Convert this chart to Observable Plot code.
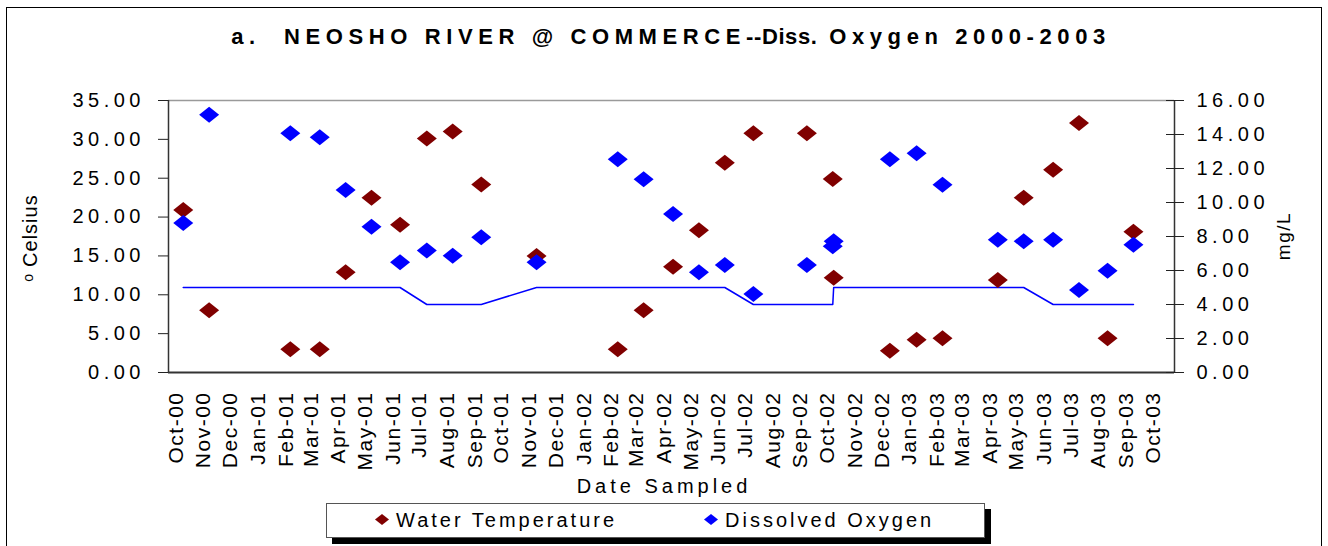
<!DOCTYPE html>
<html>
<head>
<meta charset="utf-8">
<script src="https://cdn.jsdelivr.net/npm/d3@7"></script>
<script src="https://cdn.jsdelivr.net/npm/@observablehq/plot@0.6"></script>
<style>
  html, body { margin: 0; padding: 0; background: #fff; }
  body { font-family: 'Liberation Sans', Arial, sans-serif; color: #000; }
  #wrap { position: relative; width: 1328px; height: 546px; overflow: hidden; background: #fff; }
  #border { position: absolute; left: 6px; top: 7px; width: 1316px; height: 600px; border: 1px solid #000; box-sizing: border-box; }
  #title { position: absolute; left: 0; width: 1328px; top: 24px; text-align: center; font-weight: bold; font-size: 22px; letter-spacing: 5.6px; white-space: pre; padding-left: 14px; box-sizing: border-box; }
  #title .tight { letter-spacing: 0.6px; }
  #chart { position: absolute; left: 0; top: 80px; }
  .rot { position: absolute; white-space: nowrap; transform: translate(-50%, -50%) rotate(-90deg); }
  #ylab { left: 30px; top: 238px; font-size: 20px; letter-spacing: 1px; }
  #ylab sup { font-size: 14px; vertical-align: 4px; margin-right: 6px; }
  #y2lab { left: 1284px; top: 236px; font-size: 19px; letter-spacing: 1.5px; }
  #xlab { position: absolute; left: 664px; top: 486px; transform: translate(-50%, -50%); font-size: 20px; letter-spacing: 4px; white-space: nowrap; }
  #legend { position: absolute; left: 326px; top: 503px; width: 659px; height: 35px; border: 1px solid #555; box-sizing: border-box; background: #fff; box-shadow: 6px 6px 0 #000; font-size: 20px; letter-spacing: 3px; }
  #legend .item { position: absolute; top: 0; height: 33px; line-height: 33px; white-space: nowrap; }
  #legend svg { vertical-align: middle; margin-right: 7px; position: relative; top: -2px; }
  svg g[aria-label="y-axis tick label"] text { letter-spacing: 4.5px; }
  svg g[aria-label="x-axis tick label"] text { letter-spacing: 1.5px; }
</style>
</head>
<body>
<div id="wrap">
  <div id="border"></div>
  <div id="title">a.  NEOSHO RIVER @ COMMERCE<span class="tight">--Diss.</span> Oxygen 2000-2003</div>
  <div id="chart"></div>
  <div id="ylab" class="rot"><sup>o</sup>Celsius</div>
  <div id="y2lab" class="rot">mg/L</div>
  <div id="xlab">Date Sampled</div>
  <div id="legend">
    <div class="item" style="left:48px"><svg width="14" height="11" viewBox="0 0 14 11"><polygon points="0,5.5 7,0 14,5.5 7,11" fill="#800000"/></svg>Water Temperature</div>
    <div class="item" style="left:377px"><svg width="14" height="11" viewBox="0 0 14 11"><polygon points="0,5.5 7,0 14,5.5 7,11" fill="#0000ff"/></svg>Dissolved Oxygen</div>
  </div>
</div>
<script>
// ---- Data ----
const sampleDates = ["2000-10-09","2000-11-07","2001-02-06","2001-03-11","2001-04-09","2001-05-08","2001-06-09","2001-07-09","2001-08-07","2001-09-08","2001-11-09","2002-02-08","2002-03-09","2002-04-11","2002-05-10","2002-06-08","2002-07-10","2002-09-08","2002-10-07","2002-10-08","2002-12-10","2003-01-09","2003-02-07","2003-04-10","2003-05-09","2003-06-11","2003-07-10","2003-08-11","2003-09-09"];
const waterTemp = [20.9, 8.0, 3.0, 3.0, 12.9, 22.5, 19.0, 30.1, 31.0, 24.2, 15.0, 3.0, 8.0, 13.6, 18.3, 27.0, 30.8, 30.8, 24.9, 12.2, 2.8, 4.2, 4.4, 11.9, 22.5, 26.1, 32.1, 4.4, 18.1];
const dissolvedOxygen = [8.80, 15.16, 14.08, 13.84, 10.74, 8.58, 6.48, 7.17, 6.87, 7.95, 6.48, 12.54, 11.37, 9.33, 5.89, 6.32, 4.62, 6.32, 7.42, 7.72, 12.54, 12.90, 11.05, 7.81, 7.72, 7.81, 4.85, 5.99, 7.52];
const doCriterion = [5, 5, 5, 5, 5, 5, 5, 4, 4, 4, 5, 5, 5, 5, 5, 5, 4, 4, 4, 5, 5, 5, 5, 5, 5, 4, 4, 4, 4];
const leftTicks = [0, 5, 10, 15, 20, 25, 30, 35];
const rightTicks = [0, 2, 4, 6, 8, 10, 12, 14, 16];
const xDomainStr = ["2000-09-22T12:00:00Z", "2003-10-25T00:00:00Z"];
const firstTickMonth = "2000-10-01", lastTickMonth = "2003-10-01";
const leftMax = 35, rightMax = 16;

// ---- Build ----
const K = leftMax / rightMax; // map mg/L onto the Celsius scale
const rows = sampleDates.map((d, i) => ({
  date: new Date(d + "T00:00:00Z"),
  temp: waterTemp[i],
  oxy: dissolvedOxygen[i],
  crit: doCriterion[i]
}));
const xDomain = xDomainStr.map(s => new Date(s));
const monthTicks = d3.utcMonth.range(new Date(firstTickMonth + "T00:00:00Z"), d3.utcDay.offset(new Date(lastTickMonth + "T00:00:00Z"), 1));

const wideDiamond = {
  draw(context, size) {
    const r = Math.sqrt(size / Math.PI);
    const h = r * 0.8;
    context.moveTo(-r, 0);
    context.lineTo(0, -h);
    context.lineTo(r, 0);
    context.lineTo(0, h);
    context.closePath();
  }
};

const chart = Plot.plot({
  width: 1328,
  height: 420,
  marginTop: 20,
  marginBottom: 128,
  marginLeft: 168,
  marginRight: 154,
  style: { fontFamily: "'Liberation Sans', Arial, sans-serif", fontSize: "20px", color: "#000", background: "transparent", overflow: "visible" },
  x: { type: "utc", domain: xDomain },
  y: { domain: [0, leftMax] },
  marks: [
    Plot.ruleY([leftMax], { stroke: "#9a9a9a", strokeWidth: 1.5 }),
    Plot.ruleX([xDomain[1]], { stroke: "#333", strokeWidth: 1.5 }),
    Plot.line(rows, { x: "date", y: d => d.crit * K, stroke: "#0000ff", strokeWidth: 1.5 }),
    Plot.dot(rows, { x: "date", y: "temp", symbol: wideDiamond, r: 10, fill: "#800000" }),
    Plot.dot(rows, { x: "date", y: d => d.oxy * K, symbol: wideDiamond, r: 10, fill: "#0000ff" }),
    Plot.ruleX([xDomain[0]], { stroke: "#333", strokeWidth: 1.5 }),
    Plot.ruleY([0], { stroke: "#333", strokeWidth: 2 }),
    Plot.axisY(leftTicks, { anchor: "left", tickSize: 10, tickPadding: 13.5, tickFormat: d => d.toFixed(2), label: null, fontSize: 20, stroke: "#222" }),
    Plot.axisY(rightTicks.map(v => v * K), { anchor: "right", tickSize: 18, dx: -9, tickFormat: () => "", label: null, stroke: "#222" }),
    Plot.axisY(rightTicks.map(v => v * K), { anchor: "right", tickSize: 0, tickPadding: 22, tickFormat: d => (d / K).toFixed(2), label: null, fontSize: 20 }),
    Plot.axisX(monthTicks, { tickSize: 0, tickPadding: 19, tickRotate: -90, tickFormat: d3.utcFormat("%b-%y"), label: null, fontSize: 21 })
  ]
});
document.getElementById("chart").appendChild(chart);
</script>
</body>
</html>
